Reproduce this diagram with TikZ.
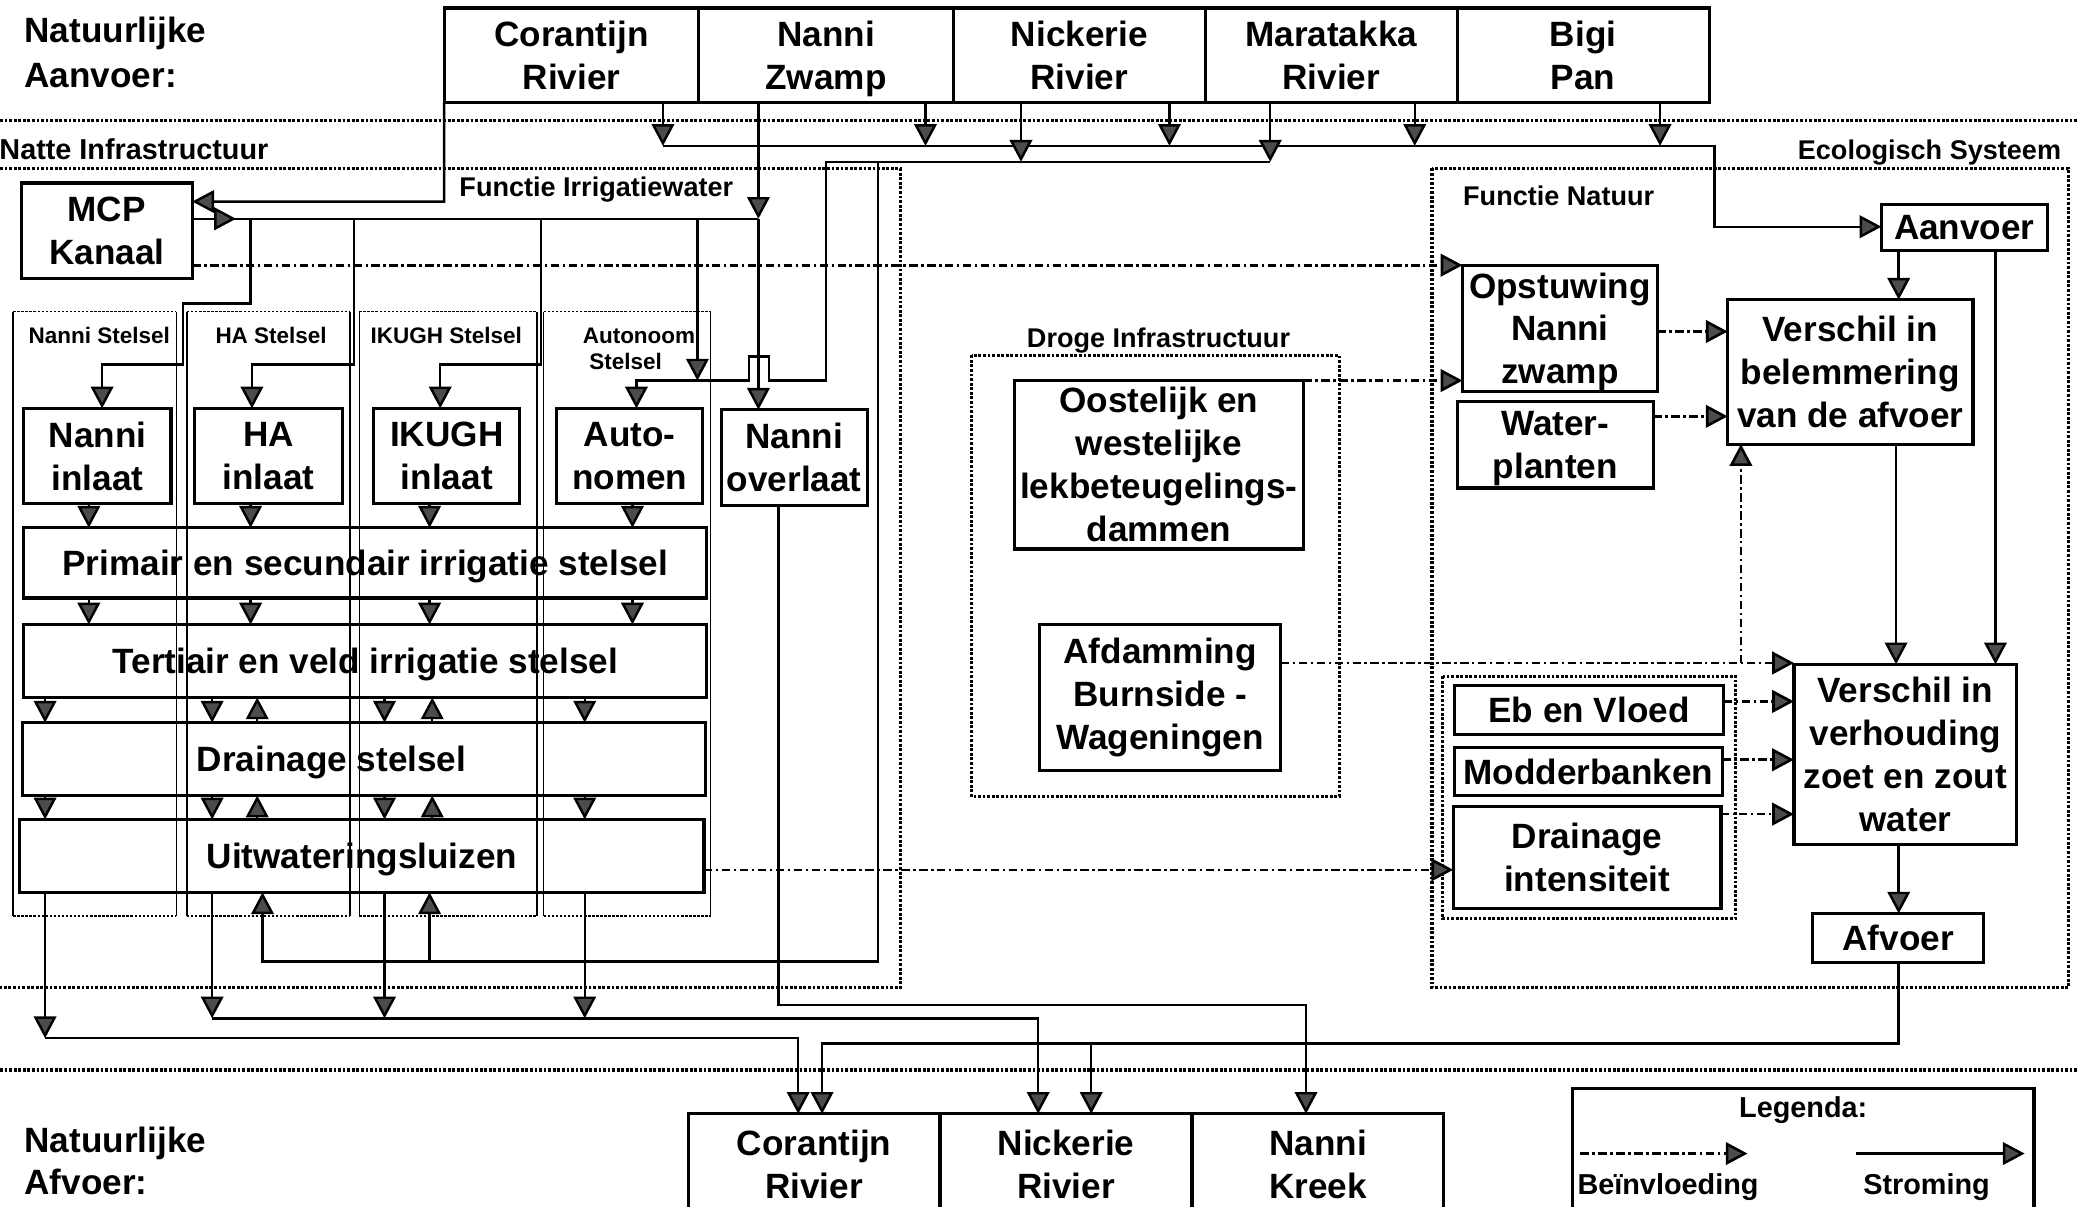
\documentclass[tikz,border=0pt]{standalone}
\usepackage{fontspec}
\setmainfont{Liberation Sans}
\usetikzlibrary{arrows.meta}

% box from corner (x1,y1) to (x2,y2): \bx[opts]{name}{x1}{y1}{x2}{y2}{text}
\newcommand\bx[7][]{\node[box,#1,minimum width={(#5-#3)*0.37725pt},minimum height={(#6-#4)*0.37725pt}] (#2) at ({(#3+#5)/2},{(#4+#6)/2}) {#7};}
% a line whose descenders take no room, so box texts centre on their letters
\newcommand\nd[1]{\raisebox{0pt}[\height][0pt]{#1}}

\begin{document}
\begin{tikzpicture}[x=0.013259cm, y=-0.013259cm,
  box/.style={draw, line width=0.9pt, inner sep=0pt, outer sep=0pt, align=center,
    font=\bfseries\fontsize{10}{12.2}\selectfont},
  tip/.style={-{Triangle[width=6.4pt,length=6.2pt,fill=black!70]}},
  flow/.style={line width=0.7pt, tip},
  link/.style={line width=0.7pt},
  infl/.style={line width=0.75pt, dash pattern=on 2.4pt off 1.0pt on 0.7pt off 1.0pt, tip},
  region/.style={line width=0.9pt, dash pattern=on 0.8pt off 0.5pt},
  colside/.style={line width=0.45pt},
  coledge/.style={line width=0.5pt, dash pattern=on 0.7pt off 0.45pt},
  sect/.style={font=\bfseries\fontsize{7.7}{9}\selectfont, inner sep=0pt},
  head/.style={font=\bfseries\fontsize{10}{12}\selectfont, inner sep=0pt},
  colname/.style={font=\bfseries\fontsize{6.4}{8}\selectfont, inner sep=0pt},
  legtext/.style={font=\bfseries\fontsize{8.2}{10}\selectfont, inner sep=0pt},
]
\useasboundingbox (0,0) rectangle (1568,910);
\fill[white] (0,0) rectangle (1568,910);
\clip (0,0) rectangle (1568,910);

% ---------- region borders ----------
\draw[region] (0,91) -- (1568,91);
\draw[region] (0,807) -- (1568,807);
\draw[region] (0,127) -- (679,127) -- (679,745) -- (0,745);
\draw[region] (1080,127) rectangle (1560,745);
\draw[region] (733,268) rectangle (1010,601);
\draw[region] (1088,510) rectangle (1309,693);

% ---------- section labels ----------
\node[head, anchor=base west] at (18,32) {Natuurlijke};
\node[head, anchor=base west] at (18,66) {Aanvoer:};
\node[head, anchor=base west] at (18,869) {Natuurlijke};
\node[head, anchor=base west] at (18,901) {Afvoer:};
\node[sect, font=\bfseries\fontsize{8.2}{9}\selectfont, anchor=base east] at (203,120) {Natte Infrastructuur};
\node[sect, anchor=base east] at (1555,120) {Ecologisch Systeem};
\node[sect, anchor=base west] at (346,148) {Functie Irrigatiewater};
\node[sect, anchor=base west] at (1103,155) {Functie Natuur};
\node[sect, anchor=base west] at (774,262) {Droge Infrastructuur};

% ---------- irrigation systems (columns) ----------
\foreach \a/\b in {10/133,141/264,271/405,410/536}{
  \draw[colside] (\a,235) -- (\a,691);
  \draw[colside] (\b,235) -- (\b,691);
  \draw[coledge] (\a,235) -- (\b,235);
  \draw[coledge] (\a,691) -- (\b,691);
}
\node[colname, anchor=base west] at (21,259) {Nanni Stelsel};
\node[colname, anchor=base west] at (162,259) {HA Stelsel};
\node[colname, anchor=base west] at (279,259) {IKUGH Stelsel};
\node[colname, anchor=base west] at (439,259) {Autonoom};
\node[colname, anchor=base west] at (444,279) {Stelsel};

% ---------- boxes ----------
\bx{cor}{335}{6}{527}{77}{Corantijn\\Rivier}
\bx{nzw}{527}{6}{719}{77}{Nanni\\\nd{Zwamp}}
\bx{nic}{719}{6}{909}{77}{Nickerie\\Rivier}
\bx{mar}{909}{6}{1099}{77}{Maratakka\\Rivier}
\bx{big}{1099}{6}{1289}{77}{Bigi\\Pan}

\bx{mcp}{16}{138}{145}{210}{MCP\\Kanaal}

\bx{nin}{18}{308}{129}{380}{Nanni\\inlaat}
\bx{hin}{147}{308}{258}{380}{HA\\inlaat}
\bx{iin}{282}{308}{392}{380}{IKUGH\\inlaat}
\bx{ain}{420}{308}{530}{380}{Auto-\\nomen}
\bx{nov}{544}{309}{654}{381}{Nanni\\overlaat}

\bx{pri}{18}{398}{533}{451}{\nd{Primair en secundair irrigatie stelsel}}
\bx{ter}{18}{471}{533}{526}{\nd{Tertiair en veld irrigatie stelsel}}
\bx{dra}{17}{545}{532}{600}{}
\node[box, draw=none] at (250,572) {\nd{Drainage stelsel}};
\bx{uit}{15}{618}{531}{673}{\nd{Uitwateringsluizen}}

\bx{oos}{765}{287}{983}{414}{Oostelijk en\\westelijke\\lekbeteugelings-\\dammen}
\bx{afd}{784}{471}{966}{581}{Afdamming\\Burnside -\\Wageningen}

\bx{aan}{1419}{154}{1544}{189}{Aanvoer}
\bx{ops}{1103}{200}{1250}{295}{Opstuwing\\Nanni\\\nd{zwamp}}
\bx{wpl}{1099}{303}{1247}{368}{Water-\\\nd{planten}}
\bx{bel}{1303}{226}{1488}{335}{Verschil in\\belemmering\\van de afvoer}
\bx{ebv}{1097}{517}{1300}{554}{Eb en Vloed}
\bx{mod}{1097}{564}{1299}{600}{Modderbanken}
\bx{din}{1096}{608}{1298}{685}{Drainage\\intensiteit}
\bx{ver}{1353}{501}{1521}{637}{Verschil in\\verhouding\\zoet en zout\\water}
\bx{afv}{1367}{689}{1496}{726}{Afvoer}

\bx{bcor}{519}{840}{709}{916}{Corantijn\\Rivier}
\bx{bnic}{709}{840}{899}{916}{Nickerie\\Rivier}
\bx{bnk}{899}{840}{1089}{916}{Nanni\\Kreek}

% ---------- natural supply ----------
\coordinate (s1) at (500,110);
\coordinate (s2) at (623,122);
\draw[flow] (cor.south -| 500,0) -- (s1);
\draw[flow] (nzw.south -| 698,0) -- (698,110);
\draw[flow] (nic.south -| 882,0) -- (882,110);
\draw[flow] (mar.south -| 1067,0) -- (1067,110);
\draw[flow] (big.south -| 1252,0) -- (1252,110);
\draw[flow] (s1) -- (1293,110) -- (1293,171) -- (aan.west |- 0,171);
\draw[flow] (nic.south -| 770,0) -- (770,122);
\draw[flow] (mar.south -| 958,0) -- (958,122);

% Corantijn to MCP Kanaal and MCP Kanaal outlet
\draw[flow] (cor.south west) -- (335,152) -- (mcp.east |- 0,152);
\draw[flow] (mcp.east |- 0,165) -- (178,165);
\coordinate (m1) at (572,165);
\draw[link] (175,165) -- (m1);
\draw[flow] (nzw.south -| 572,0) -- (m1);
\draw[flow] (m1) -- (nov.north -| 572,0);

% feeders to the inlets
\draw[flow] (189,165) -- (189,229) -- (138,229) -- (138,275) -- (77,275) -- (nin.north -| 77,0);
\draw[flow] (267,165) -- (267,275) -- (190,275) -- (hin.north -| 190,0);
\draw[flow] (408,165) -- (408,275) -- (332,275) -- (iin.north -| 332,0);
\draw[flow] (526,165) -- (526,287);
\draw[flow] (958,122) -- (s2) -- (623,287) -- (580,287) -- (580,269) -- (565,269) -- (565,287) -- (480,287) -- (ain.north -| 480,0);

% supply from the rivers into the sluices
\draw[link] (662,122) -- (662,725) -- (324,725);
\draw[flow] (324,725) -- (198,725) -- (uit.south -| 198,0);
\draw[flow] (324,725) -- (uit.south -| 324,0);

% cascade through the irrigation system
\foreach \x in {67,189,324,477}{
  \draw[flow] (nin.south -| \x,0) -- (pri.north -| \x,0);
  \draw[flow] (pri.south -| \x,0) -- (ter.north -| \x,0);
}
\foreach \x in {34,160,290,441}{
  \draw[flow] (ter.south -| \x,0) -- (dra.north -| \x,0);
  \draw[flow] (dra.south -| \x,0) -- (uit.north -| \x,0);
}
\foreach \x in {194,326}{
  \draw[flow] (dra.north -| \x,0) -- (ter.south -| \x,0);
  \draw[flow] (uit.north -| \x,0) -- (dra.south -| \x,0);
}

% discharge to the rivers
\draw[flow] (uit.south -| 34,0) -- (34,783);
\draw[flow] (34,783) -- (602,783) -- (bcor.north -| 602,0);
\foreach \x in {160,290,441}{ \draw[flow] (uit.south -| \x,0) -- (\x,768); }
\draw[flow] (160,768) -- (783,768) -- (bnic.north -| 783,0);
\draw[flow] (nov.south -| 587,0) -- (587,758) -- (985,758) -- (bnk.north -| 985,0);
\draw[flow] (afv.south -| 1432,0) -- (1432,787) -- (620,787) -- (bcor.north -| 620,0);
\draw[flow] (823,787) -- (bnic.north -| 823,0);

% ecological system flows
\draw[flow] (aan.south -| 1432,0) -- (bel.north -| 1432,0);
\draw[flow] (aan.south -| 1505,0) -- (ver.north -| 1505,0);
\draw[flow] (bel.south -| 1430,0) -- (ver.north -| 1430,0);
\draw[flow] (ver.south -| 1432,0) -- (afv.north -| 1432,0);

% influences
\draw[infl] (mcp.east |- 0,200) -- (ops.west |- 0,200);
\draw[infl] (oos.north east) -- (ops.west |- oos.north east);
\draw[infl] (ops.east |- 0,250) -- (bel.west |- 0,250);
\draw[infl] (wpl.east |- 0,314) -- (bel.west |- 0,314);
\draw[infl] (afd.east |- 0,500) -- (ver.west |- 0,500);
\draw[infl] (1313,500) -- (bel.south -| 1313,0);
\draw[infl] (ebv.east |- 0,529) -- (ver.west |- 0,529);
\draw[infl] (mod.east |- 0,573) -- (ver.west |- 0,573);
\draw[infl] (din.east |- 0,614) -- (ver.west |- 0,614);
\draw[infl] (uit.east |- 0,656) -- (din.west |- 0,656);

% ---------- legend ----------
\draw[line width=0.9pt] (1186,916) -- (1186,821) -- (1534,821) -- (1534,916);
\node[legtext] (legt) at (1360,837) {Legenda:};
\coordinate (lb1) at (1192,870); \coordinate (lb2) at (1318,870);
\coordinate (ls1) at (1400,870); \coordinate (ls2) at (1527,870);
\draw[infl] (lb1) -- (lb2);
\draw[flow] (ls1) -- (ls2);
\node[legtext] at (1258,895) {Beïnvloeding};
\node[legtext] at (1453,895) {Stroming};
\end{tikzpicture}
\end{document}
